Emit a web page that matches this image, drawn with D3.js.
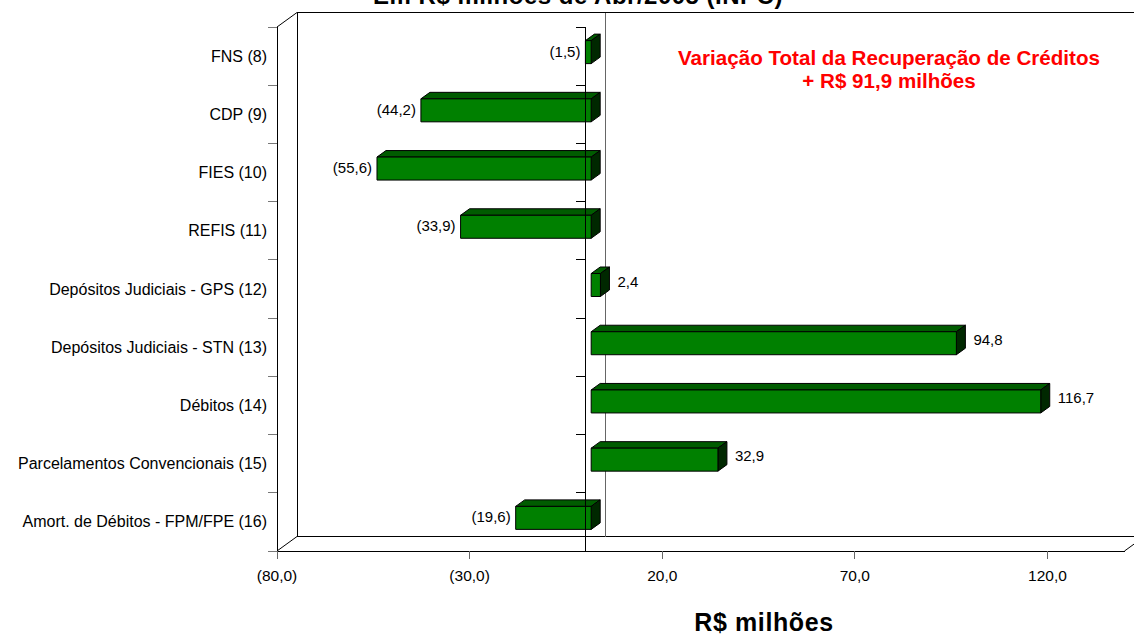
<!DOCTYPE html>
<html>
<head>
<meta charset="utf-8">
<script src="https://cdn.jsdelivr.net/npm/d3@7"></script>
<style>
  html, body { margin: 0; padding: 0; background: #fff; }
  svg { display: block; font-family: Arial, "Liberation Sans", sans-serif; }
</style>
</head>
<body>
<svg id="chart" width="1134" height="635"></svg>
<script>
// Recuperação de créditos: variação por rubrica (R$ milhões)
const categories = [
  "FNS (8)",
  "CDP (9)",
  "FIES (10)",
  "REFIS (11)",
  "Depósitos Judiciais - GPS (12)",
  "Depósitos Judiciais - STN (13)",
  "Débitos  (14)",
  "Parcelamentos Convencionais (15)",
  "Amort. de Débitos - FPM/FPE (16)"
];
const values = [-1.5, -44.2, -55.6, -33.9, 2.4, 94.8, 116.7, 32.9, -19.6];
const xTicks = [-80, -30, 20, 70, 120];
const xDomain = [-80, 140];
const titleText = "Em R$ milhões de Abr/2005 (INPC)";
const axisTitle = "R$ milhões";
const noteLines = ["Variação Total da Recuperação de Créditos", "+ R$ 91,9 milhões"];

const svg = d3.select("#chart");

// front plane of the 3-D box and its depth offset
const front = { left: 277, right: 1124.5, top: 27, bottom: 551 };
const depth = { dx: 20, dy: -14.5 };
// bars sit a little inside the box, with their own thickness
const barShift = { dx: 6, dy: -4 };
const barDepth = { dx: 9, dy: -6.5 };
const barH = 23;

const x = d3.scaleLinear().domain(xDomain).range([front.left, front.right]);
const y = d3.scaleBand().domain(categories).range([front.top, front.bottom]).padding(0);

const fmt = v => {
  const s = d3.format(".1f")(Math.abs(v)).replace(".", ",");
  return v < 0 ? "(" + s + ")" : s;
};

const x0 = x(0);
const line = (x1, y1, x2, y2, stroke, sw) =>
  svg.append("line").attr("x1", x1).attr("y1", y1).attr("x2", x2).attr("y2", y2)
    .attr("stroke", stroke).attr("stroke-width", sw || 1).attr("shape-rendering", "crispEdges");

// back wall and floor edges
const bk = { left: front.left + depth.dx, right: front.right + depth.dx,
             top: front.top + depth.dy, bottom: front.bottom + depth.dy };
line(bk.left, bk.top, 1134, bk.top, "#000");
line(bk.left, bk.top, bk.left, bk.bottom, "#000");
line(bk.left, bk.bottom, bk.right, bk.bottom, "#000");
line(front.left, front.bottom, front.right, front.bottom, "#000");
svg.append("path")
  .attr("d", d3.line()([[front.left, front.top], [bk.left, bk.top]]) +
             d3.line()([[front.left, front.bottom], [bk.left, bk.bottom]]) +
             d3.line()([[front.right, front.bottom], [bk.right, bk.bottom]]))
  .attr("stroke", "#000").attr("fill", "none");
line(front.left, front.top, front.left, front.bottom, "#000");

// zero gridline on the back wall
line(x0 + depth.dx, bk.top, x0 + depth.dx, bk.bottom, "#666");

// category boundary ticks on the side wall edge
const bounds = d3.range(categories.length + 1).map(i => front.top + i * y.step());
bounds.forEach(b => line(front.left - 9, b, front.left, b, "#777"));

// value axis ticks and labels
xTicks.forEach(t => {
  line(x(t), front.bottom, x(t), front.bottom + 8, "#666");
  svg.append("text").attr("x", x(t)).attr("y", 575)
    .attr("text-anchor", "middle").attr("dominant-baseline", "central")
    .attr("font-size", "15.5px").attr("fill", "#000").text(fmt(t));
});

// category labels
categories.forEach(c => {
  svg.append("text").attr("x", 267).attr("y", y(c) + y.bandwidth() / 2)
    .attr("text-anchor", "end").attr("dominant-baseline", "central")
    .attr("font-size", "16px").attr("fill", "#000").text(c);
});

// 3-D bars
const bars = svg.append("g");
categories.forEach((c, i) => {
  const v = values[i];
  const xl = x(Math.min(0, v)) + barShift.dx;
  const xr = x(Math.max(0, v)) + barShift.dx;
  const cy = y(c) + y.bandwidth() / 2 + barShift.dy;
  const yt = cy - barH / 2, yb = cy + barH / 2;
  const g = bars.append("g").attr("stroke", "#000").attr("stroke-width", 1).attr("stroke-linejoin", "round");
  g.append("path").attr("fill", "#005c00")
    .attr("d", d3.line()([[xl, yt], [xr, yt], [xr + barDepth.dx, yt + barDepth.dy], [xl + barDepth.dx, yt + barDepth.dy]]) + "Z");
  g.append("path").attr("fill", "#002800")
    .attr("d", d3.line()([[xr, yt], [xr + barDepth.dx, yt + barDepth.dy], [xr + barDepth.dx, yb + barDepth.dy], [xr, yb]]) + "Z");
  g.append("rect").attr("x", xl).attr("y", yt).attr("width", xr - xl).attr("height", barH).attr("fill", "#008000");

  const lbl = svg.append("text").attr("dominant-baseline", "central")
    .attr("font-size", "15px").attr("fill", "#000").text(fmt(v));
  if (v < 0) lbl.attr("x", xl - 5).attr("y", cy - 1).attr("text-anchor", "end");
  else lbl.attr("x", xr + barDepth.dx + 8).attr("y", cy - 4).attr("text-anchor", "start");
});

// front zero axis with category ticks
line(x0, front.top, x0, front.bottom, "#000");
bounds.slice(0, -1).forEach(b => line(x0 - 9, b, x0, b, "#000"));

// titles
svg.append("text").attr("x", 578).attr("y", 4).attr("text-anchor", "middle")
  .attr("font-size", "24px").attr("font-weight", "bold").attr("letter-spacing", "0.5px").text(titleText);
svg.append("text").attr("x", 764).attr("y", 631).attr("text-anchor", "middle")
  .attr("font-size", "25px").attr("font-weight", "bold").attr("letter-spacing", "0.6px").text(axisTitle);

// annotation
noteLines.forEach((t, i) => {
  svg.append("text").attr("x", 889).attr("y", 57 + i * 23.5).attr("text-anchor", "middle")
    .attr("dominant-baseline", "central").attr("font-size", "20.6px").attr("font-weight", "bold")
    .attr("fill", "#ff0000").text(t);
});
</script>
</body>
</html>
